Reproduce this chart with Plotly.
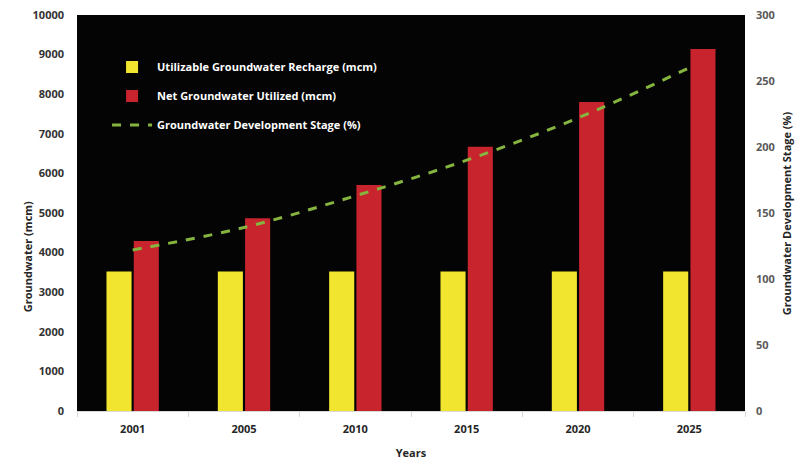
import plotly.graph_objects as go

years = ["2001", "2005", "2010", "2015", "2020", "2025"]
recharge = [3520, 3520, 3520, 3520, 3520, 3520]
utilized = [4290, 4870, 5710, 6670, 7800, 9140]
stage = [122, 139, 163, 190, 222, 260]

left_ticks = [0, 1000, 2000, 3000, 4000, 5000, 6000, 7000, 8000, 9000, 10000]
right_ticks = [0, 50, 100, 150, 200, 250, 300]

FONT = "Open Sans"

fig = go.Figure()
fig.add_trace(go.Bar(
    x=years, y=recharge, name="<b>Utilizable Groundwater Recharge (mcm)</b>",
    marker=dict(color="#f2e52f", line=dict(width=0)), legendgroup="a",
))
fig.add_trace(go.Bar(
    x=years, y=utilized, name="<b>Net Groundwater Utilized (mcm)</b>",
    marker=dict(color="#c8242d", line=dict(width=0)), legendgroup="b",
))
fig.add_trace(go.Scatter(
    x=years, y=stage, name="<b>Groundwater Development Stage (%)</b>", yaxis="y2",
    mode="lines", line=dict(color="#86b53f", width=3, dash="dash", shape="spline"),
    legendgroup="c",
))

fig.update_layout(
    width=798, height=461,
    margin=dict(l=77, r=53, t=15, b=50),
    paper_bgcolor="white", plot_bgcolor="#040404",
    barmode="group", bargap=0.51, bargroupgap=0.08,
    font=dict(family=FONT, size=11, color="#404040"),
    showlegend=True,
    legend=dict(
        x=0.045, y=0.905, xanchor="left", yanchor="top",
        bgcolor="rgba(0,0,0,0)", font=dict(color="white", size=11, family=FONT),
        traceorder="grouped", tracegroupgap=10, itemwidth=40,
    ),
    xaxis=dict(
        type="category", showgrid=False, tickson="boundaries",
        ticks="outside", ticklen=5, tickcolor="#d9d9d9",
        showline=True, linecolor="#d9d9d9", linewidth=1,
        tickvals=years, ticktext=["<b>" + y + "</b>" for y in years],
        tickfont=dict(size=11, color="#262626", family=FONT),
        ticklabelstandoff=8, automargin=False,
        title=dict(text="<b>Years</b>", font=dict(size=11, color="#262626"), standoff=14),
        zeroline=False,
    ),
    yaxis=dict(
        range=[0, 10000], tickvals=left_ticks,
        ticktext=["<b>" + str(v) + "</b>" for v in left_ticks],
        showgrid=False, zeroline=False, automargin=False,
        tickfont=dict(size=11, color="#333333", family=FONT),
        ticklabelstandoff=12, showline=False,
    ),
    yaxis2=dict(
        range=[0, 300], tickvals=right_ticks,
        ticktext=["<b>" + str(v) + "</b>" for v in right_ticks],
        overlaying="y", side="right", automargin=False,
        showgrid=False, zeroline=False,
        tickfont=dict(size=11, color="#595959", family=FONT),
        ticklabelstandoff=10, showline=False,
    ),
    annotations=[
        dict(text="<b>Groundwater (mcm)</b>", xref="paper", yref="paper",
             x=-0.088, y=0.39, textangle=-90, showarrow=False,
             font=dict(size=11, color="#262626", family=FONT)),
        dict(text="<b>Groundwater Development Stage (%)</b>", xref="paper", yref="paper",
             x=1.076, y=0.5, textangle=-90, showarrow=False,
             font=dict(size=11, color="#262626", family=FONT)),
    ],
)

fig.write_html("out.html")
